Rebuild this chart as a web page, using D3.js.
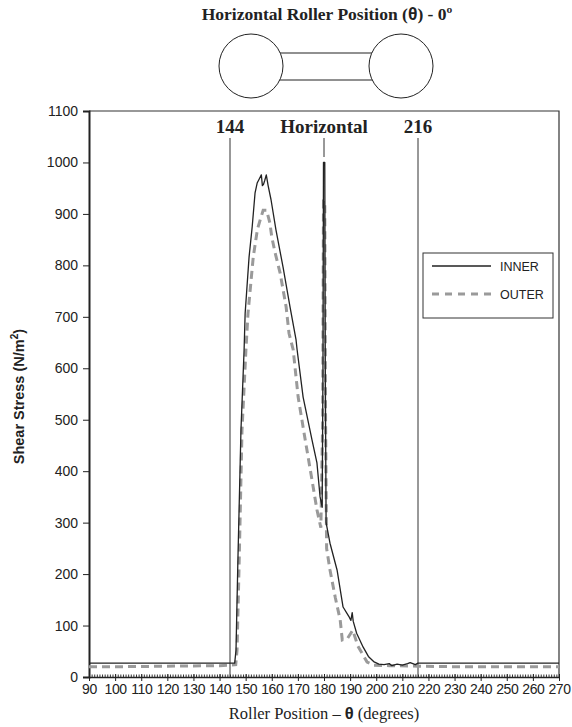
<!DOCTYPE html>
<html>
<head>
<meta charset="utf-8">
<script src="https://cdn.jsdelivr.net/npm/d3@7"></script>
<style>
  body { margin: 0; background: #fff; }
  svg { display: block; }
</style>
</head>
<body>
<div id="chart"></div>
<script>
// Data (theta in degrees, shear stress in N/m^2)
const innerTheta = [90, 145.8, 146.3, 147, 148.2, 149.4, 149.8, 151.3, 152.5, 153.6, 154.4, 155.2, 156, 156.4, 156.8, 157.3, 157.9, 158.6, 159.7, 161.6, 164.3, 167, 169.3, 169.7, 172, 175.4, 177.3, 178.5, 179.3, 179.6, 179.8, 180.3, 180.5, 180.8, 182.3, 185, 187.3, 189.5, 190.3, 190.8, 191.2, 192.5, 195, 197, 199, 201, 203, 205, 206, 208, 210, 212, 213, 215, 216, 270];
const innerStress = [27, 27, 52, 221, 480, 636, 707, 816, 875, 941, 960, 968, 976, 955, 957, 965, 976, 955, 928, 869, 797, 719, 655, 636, 544, 461, 416, 350, 330, 600, 1000, 1000, 600, 300, 260, 208, 136, 118, 110, 125, 108, 85, 58, 40, 30, 25, 24, 26, 22, 25, 23, 26, 28, 24, 27, 27];

const outerTheta = [90, 100, 120, 140, 144, 146.2, 146.7, 147.5, 148.6, 150.1, 150.9, 152.9, 154.5, 155.6, 156.7, 158, 159.3, 160, 161.3, 163.2, 165.5, 166.6, 168.2, 170.1, 172.8, 175.4, 177.3, 178.8, 179.5, 179.8, 180.3, 180.6, 181, 182.3, 184.3, 186.2, 187, 189, 191, 193, 196.5, 199, 205, 216, 230, 250, 270];
const outerStress = [20, 20, 21, 22, 23, 24, 52, 221, 480, 636, 707, 816, 870, 889, 907, 907, 882, 855, 824, 785, 719, 668, 636, 544, 461, 383, 325, 290, 500, 925, 925, 500, 250, 208, 155, 111, 72, 75, 91, 60, 29, 23, 22, 21, 20, 20, 20];

const xTicks = d3.range(90, 271, 10);
const yTicks = d3.range(0, 1101, 100);
const refLines = [
  { theta: 144, label: "144" },
  { theta: 180, label: "Horizontal" },
  { theta: 216, label: "216" }
];
const seriesNames = ["INNER", "OUTER"];

const width = 572, height = 727;
const margin = { top: 111, right: 13, bottom: 50, left: 89 };
const innerW = width - margin.left - margin.right;
const innerH = height - margin.top - margin.bottom;

const svg = d3.select("#chart").append("svg")
  .attr("width", width)
  .attr("height", height);

const x = d3.scaleLinear().domain([90, 270]).range([margin.left, margin.left + innerW]);
const y = d3.scaleLinear().domain([0, 1100]).range([margin.top + innerH, margin.top]);

const serif = "'Liberation Serif', 'Times New Roman', serif";
const sans = "'Liberation Sans', Arial, sans-serif";

// Title
const title = svg.append("text")
  .attr("x", 327).attr("y", 20)
  .attr("text-anchor", "middle")
  .attr("font-family", serif).attr("font-weight", "bold").attr("font-size", 17.5)
  .attr("fill", "#222");
title.append("tspan").text("Horizontal Roller Position (");
title.append("tspan").attr("font-family", sans).text("θ");
title.append("tspan").text(") - 0º");

// Roller diagram
const diag = svg.append("g").attr("fill", "#fff").attr("stroke", "#222").attr("stroke-width", 1);
diag.append("rect").attr("x", 270).attr("y", 53).attr("width", 112).attr("height", 27);
diag.append("circle").attr("cx", 251).attr("cy", 66).attr("r", 32);
diag.append("circle").attr("cx", 401).attr("cy", 66).attr("r", 32);

// Frame (top and right)
svg.append("path")
  .attr("d", `M${x(90)},${y(1100)}H${x(270)}V${y(0)}`)
  .attr("fill", "none").attr("stroke", "#333").attr("stroke-width", 1.2);

// Y axis
const yAxis = svg.append("g")
  .attr("transform", `translate(${margin.left},0)`)
  .call(d3.axisLeft(y).tickValues(yTicks).tickFormat(d3.format("d")).tickSize(6).tickPadding(5));
yAxis.select(".domain").attr("stroke", "#222").attr("stroke-width", 2);
yAxis.selectAll(".tick line").attr("stroke", "#222");
yAxis.selectAll(".tick text")
  .attr("font-family", sans).attr("font-size", 14).attr("fill", "#222");

// X axis: minor ticks every degree pointing up, major ticks every 10
const xMinor = svg.append("g")
  .attr("transform", `translate(0,${margin.top + innerH})`)
  .call(d3.axisBottom(x).tickValues(d3.range(90, 271, 1)).tickSize(-2.5).tickFormat(""));
xMinor.select(".domain").remove();
xMinor.selectAll(".tick line").attr("stroke", "#333");

const xAxis = svg.append("g")
  .attr("transform", `translate(0,${margin.top + innerH})`)
  .call(d3.axisBottom(x).tickValues(xTicks).tickSizeInner(4).tickSizeOuter(0).tickPadding(3));
xAxis.select(".domain").attr("stroke", "#222").attr("stroke-width", 1.5);
xAxis.selectAll(".tick line").attr("stroke", "#222").attr("y1", -3);
xAxis.selectAll(".tick text")
  .attr("font-family", sans).attr("font-size", 14).attr("fill", "#222")
  .attr("letter-spacing", -0.4);

// Reference lines
svg.append("g").selectAll("line")
  .data(refLines)
  .join("line")
  .attr("x1", d => x(d.theta)).attr("x2", d => x(d.theta))
  .attr("y1", 138)
  .attr("y2", d => d.theta === 180 ? 157 : y(0))
  .attr("stroke", "#333").attr("stroke-width", 1);

svg.append("g").selectAll("text")
  .data(refLines)
  .join("text")
  .attr("x", d => x(d.theta)).attr("y", 133)
  .attr("text-anchor", "middle")
  .attr("font-family", serif).attr("font-weight", "bold").attr("font-size", 19)
  .attr("fill", "#222")
  .text(d => d.label);

// Series
const outerData = outerTheta.map((t, i) => [t, outerStress[i]]);
const innerData = innerTheta.map((t, i) => [t, innerStress[i]]);
const line = d3.line().x(d => x(d[0])).y(d => y(d[1]));

svg.append("path")
  .datum(outerData)
  .attr("d", line)
  .attr("fill", "none")
  .attr("stroke", "#9a9a9a")
  .attr("stroke-width", 3)
  .attr("stroke-dasharray", "8,5");

svg.append("path")
  .datum(innerData)
  .attr("d", line)
  .attr("fill", "none")
  .attr("stroke", "#222")
  .attr("stroke-width", 1.3)
  .attr("stroke-linejoin", "round");

// Legend
const legend = svg.append("g").attr("transform", "translate(423,253)");
legend.append("rect")
  .attr("width", 130).attr("height", 65)
  .attr("fill", "#fff").attr("stroke", "#333").attr("stroke-width", 1);
const legendRows = legend.selectAll("g.row")
  .data(seriesNames)
  .join("g")
  .attr("class", "row")
  .attr("transform", (d, i) => `translate(0,${13 + i * 28})`);
legendRows.append("line")
  .attr("x1", 9).attr("x2", 68)
  .attr("stroke", (d, i) => i === 0 ? "#222" : "#9a9a9a")
  .attr("stroke-width", (d, i) => i === 0 ? 1.3 : 3)
  .attr("stroke-dasharray", (d, i) => i === 0 ? null : "7,6");
legendRows.append("text")
  .attr("x", 77).attr("y", 4.5)
  .attr("font-family", sans).attr("font-size", 12.5)
  .attr("fill", "#222")
  .text(d => d);

// Axis titles
const yTitle = svg.append("text")
  .attr("transform", `translate(24,${y(545)}) rotate(-90)`)
  .attr("text-anchor", "middle")
  .attr("font-family", sans).attr("font-weight", "bold").attr("font-size", 14.5)
  .attr("fill", "#222");
yTitle.append("tspan").text("Shear Stress (N/m");
yTitle.append("tspan").attr("font-size", 10).attr("dy", -6).text("2");
yTitle.append("tspan").attr("dy", 6).text(")");

const xTitle = svg.append("text")
  .attr("x", x(180)).attr("y", 719)
  .attr("text-anchor", "middle")
  .attr("font-family", serif).attr("font-size", 16.5)
  .attr("fill", "#222");
xTitle.append("tspan").text("Roller Position – ");
xTitle.append("tspan").attr("font-family", sans).attr("font-weight", "bold").text("θ");
xTitle.append("tspan").text(" (degrees)");
</script>
</body>
</html>
